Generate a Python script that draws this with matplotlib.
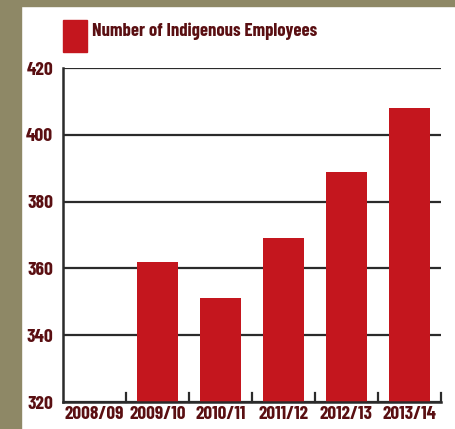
import numpy as np
import matplotlib
matplotlib.use('Agg')
import matplotlib.pyplot as plt
from matplotlib.patches import Rectangle

# employee counts per financial year (2008/09 not shown)
years = ['2008/09', '2009/10', '2010/11', '2011/12', '2012/13', '2013/14']
employees = [np.nan, 362, 351, 369, 389, 408]
legend_label = 'Number of Indigenous Employees'

RED = '#C4161E'
TXT = '#5A0F12'
KHAKI = '#8E8866'
FONT = ['Barlow Condensed', 'DejaVu Sans']

W, H = 455, 429
fig = plt.figure(figsize=(W / 100, H / 100), dpi=100)
fig.patch.set_facecolor('white')

# khaki frame on left and top
fig.patches.append(Rectangle((0, 0), 21 / W, 1, transform=fig.transFigure, color=KHAKI, zorder=0))
fig.patches.append(Rectangle((0, 1 - 6 / H), 1, 6 / H, transform=fig.transFigure, color=KHAKI, zorder=0))

ax = fig.add_axes([63 / W, 1 - 402 / H, (441 - 63) / W, (402 - 68) / H])
x = np.arange(len(years))
ax.bar(x, employees, width=0.65, color=RED, zorder=3)

ax.set_xlim(-0.5, len(years) - 0.5)
ax.set_ylim(320, 420)
ax.set_yticks(np.arange(320, 421, 20))
ax.yaxis.grid(True, color='#2b2b2b', linewidth=1.6, zorder=1)
ax.tick_params(axis='y', length=0, pad=7, labelsize=14, labelcolor=TXT)

ax.set_xticks(x)
ax.set_xticklabels(years)
ax.tick_params(axis='x', length=0, pad=3, labelsize=13.8, labelcolor=TXT)
# small separators between the categories
for b in np.arange(0.5, len(years), 1):
    ax.plot([b, b], [320, 322.6], color='#2b2b2b', lw=1.6, zorder=4, clip_on=False)

for lab in ax.get_xticklabels() + ax.get_yticklabels():
    lab.set_fontfamily(FONT)
    lab.set_fontweight(700)

for s in ['top', 'right']:
    ax.spines[s].set_visible(False)
for s in ['left', 'bottom']:
    ax.spines[s].set_color('#2b2b2b')
    ax.spines[s].set_linewidth(1.8)
    ax.spines[s].set_zorder(5)

# legend swatch and label
fig.patches.append(Rectangle((63 / W, 1 - 52 / H), 24 / W, 32 / H, transform=fig.transFigure, color=RED))
fig.text(92 / W, 1 - 31 / H, legend_label, fontsize=13.4, color=TXT, fontfamily=FONT,
         fontweight=700, va='center', ha='left')

fig.savefig('out.png', dpi=100, facecolor=fig.get_facecolor())
